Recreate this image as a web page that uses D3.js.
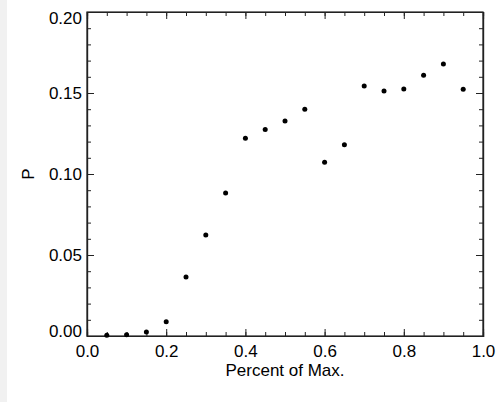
<!DOCTYPE html>
<html>
<head>
<meta charset="utf-8">
<script src="https://cdn.jsdelivr.net/npm/d3@7"></script>
<style>
  body { margin: 0; background: #fff; }
  svg { display: block; }
  .axis text { font-family: "Liberation Sans", Arial, sans-serif; font-size: 17px; fill: #000; }
  .axis path, .axis line { stroke: #222; }
</style>
</head>
<body>
<svg id="chart"></svg>
<script>
// data
const xValues = [0.05, 0.10, 0.15, 0.20, 0.25, 0.30, 0.35, 0.40, 0.45, 0.50,
                 0.55, 0.60, 0.65, 0.70, 0.75, 0.80, 0.85, 0.90, 0.95];
const pValues = [0.0004, 0.0008, 0.0025, 0.0088, 0.0364, 0.0623, 0.0883, 0.1220, 0.1274, 0.1327,
                 0.1400, 0.1072, 0.1181, 0.1543, 0.1512, 0.1525, 0.1609, 0.1679, 0.1523];
const xMajor = [0, 0.2, 0.4, 0.6, 0.8, 1.0];
const yMajor = [0, 0.05, 0.10, 0.15, 0.20];

const W = 502, H = 402;
const margin = {top: 12, right: 19, bottom: 66, left: 87};
const width = W - margin.left - margin.right;
const height = H - margin.top - margin.bottom;

const svg = d3.select('#chart').attr('width', W).attr('height', H);

// light strip on the left edge
svg.append('rect').attr('x', 0).attr('y', 0).attr('width', 7).attr('height', H).attr('fill', '#f1f1f1');

const g = svg.append('g').attr('transform', `translate(${margin.left},${margin.top})`);

const x = d3.scaleLinear().domain([0, 1]).range([0, width]);
const y = d3.scaleLinear().domain([0, 0.2]).range([height, 0]);

const xMinor = d3.range(0, 1.0001, 0.05);
const yMinor = d3.range(0, 0.2001, 0.01);

// minor ticks on all four sides
function minor(axis, ticks) {
    return axis.tickValues(ticks).tickSize(4).tickFormat('');
}
g.append('g').attr('class', 'axis').attr('transform', `translate(0,${height})`)
    .call(minor(d3.axisTop(x), xMinor));
g.append('g').attr('class', 'axis')
    .call(minor(d3.axisBottom(x), xMinor));
g.append('g').attr('class', 'axis')
    .call(minor(d3.axisRight(y), yMinor));
g.append('g').attr('class', 'axis').attr('transform', `translate(${width},0)`)
    .call(minor(d3.axisLeft(y), yMinor));

// major ticks
g.append('g').attr('class', 'axis').attr('transform', `translate(${width},0)`)
    .call(d3.axisLeft(y).tickValues(yMajor).tickSize(7).tickFormat(''));
g.append('g').attr('class', 'axis')
    .call(d3.axisBottom(x).tickValues(xMajor).tickSize(7).tickFormat(''));

const xAxis = g.append('g').attr('class', 'axis').attr('transform', `translate(0,${height})`)
    .call(d3.axisTop(x).tickValues(xMajor).tickSize(7).tickFormat(d3.format('.1f')));
xAxis.selectAll('text').attr('y', 21).attr('dy', '0');

const yAxis = g.append('g').attr('class', 'axis')
    .call(d3.axisRight(y).tickValues(yMajor).tickSize(7).tickFormat(d3.format('.2f')));
yAxis.selectAll('text')
    .attr('text-anchor', 'end').attr('x', -5)
    .attr('dy', d => d === 0 ? '0.0em' : d === 0.2 ? '0.66em' : '0.35em');

g.selectAll('.axis path.domain').attr('stroke-width', 1.2);

// frame
g.append('rect').attr('width', width).attr('height', height)
    .attr('fill', 'none').attr('stroke', '#222').attr('stroke-width', 1.2);

// axis titles
g.append('text')
    .attr('x', width / 2).attr('y', height + 40)
    .attr('text-anchor', 'middle')
    .style('font-family', '"Liberation Sans", Arial, sans-serif').style('font-size', '17px')
    .text('Percent of Max.');

g.append('text')
    .attr('transform', `translate(${-53},${height / 2}) rotate(-90)`)
    .attr('text-anchor', 'middle')
    .style('font-family', '"Liberation Sans", Arial, sans-serif').style('font-size', '17px')
    .text('P');

// points
g.selectAll('.pt')
    .data(xValues.map((v, i) => ({x: v, p: pValues[i]})))
    .enter().append('circle')
    .attr('class', 'pt')
    .attr('cx', d => x(d.x))
    .attr('cy', d => y(d.p))
    .attr('r', 2.5)
    .attr('fill', '#000');
</script>
</body>
</html>
